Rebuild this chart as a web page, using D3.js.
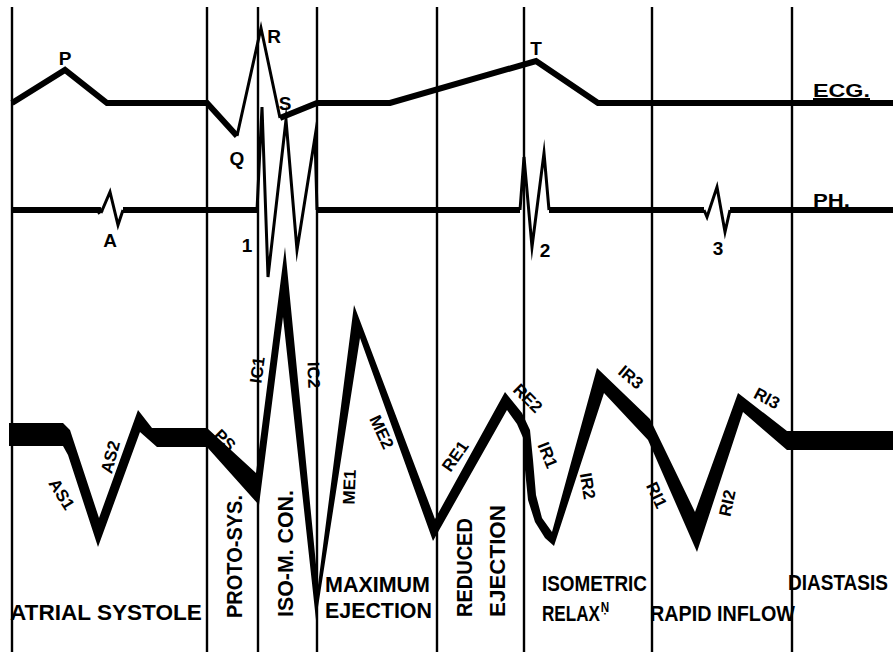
<!DOCTYPE html>
<html>
<head>
<meta charset="utf-8">
<script src="https://cdn.jsdelivr.net/npm/d3@7"></script>
<style>
  html, body { margin: 0; padding: 0; background: #fff; }
  svg { display: block; }
  text { font-family: "Liberation Sans", Arial, sans-serif; font-weight: bold; fill: #000; }
</style>
</head>
<body>
<svg id="chart" width="895" height="652"></svg>
<script>
// ---- Timing of the cardiac cycle (time units along the sweep) ----
const phaseBounds = [12, 207, 258, 317, 437, 524, 652, 792];
const phaseNames = [
  ["ATRIAL SYSTOLE"], ["PROTO-SYS."], ["ISO-M. CON."], ["MAXIMUM", "EJECTION"],
  ["REDUCED", "EJECTION"], ["ISOMETRIC", "RELAX"], ["RAPID INFLOW"], ["DIASTASIS"]
];

// ---- Electrocardiogram (relative amplitude) ----
const ecgTime  = [12, 65, 107, 207, 237, 261, 280, 317, 390, 536, 598, 893];
const ecgValue = [0, 0.33, 0, 0, -0.33, 0.75, -0.15, 0, 0, 0.42, 0, 0];
const ecgWaveNames = ["P", "Q", "R", "S", "T"];

// ---- Phonocardiogram (relative amplitude) ----
const phTime  = [12, 99, 101, 110, 118, 123, 257, 262, 268, 286, 297, 315, 317,
                 520, 524, 532, 544, 549, 704, 707, 717, 725, 730, 893];
const phValue = [0, 0, -0.06, 0.36, -0.3, 0, 0, 2.06, -1.34, 1.8, -0.8, 1.46, 0,
                 0, 1.06, -0.74, 1.14, 0, 0, -0.14, 0.46, -0.44, 0, 0];
const soundNames = ["A", "1", "2", "3"];
const soundTime  = [110, 247, 545, 718];

// ---- Pressure trace, drawn as a band: upper and lower edges [time, level] ----
const pressureUpper = [
  [9, 2.8], [63, 2.8], [70, 1.4], [99, -16.2], [138, 5.4], [152, 1.8], [207, 1.8],
  [256, -7.2], [285, 38], [318, -29.6], [354, 26.4], [435, -16.4], [505, 9],
  [522, 4.8], [530, 1.4], [533, -4.6], [536, -11.6], [542, -16.2], [552, -19],
  [597, 13.8], [650, 3.6], [695, -15], [738, 8.8], [787, 1.2], [893, 1.2]
];
const pressureLower = [
  [9, -1.8], [63, -1.8], [68, -3.6], [98, -22], [140, 1], [157, -2], [207, -2],
  [259, -13.6], [283, 24], [316, -36.6], [360, 19.8], [433, -20.8], [507, 5.4],
  [517, 2.6], [524, -0.6], [525, -6.6], [528, -12.6], [535, -17], [545, -20.2],
  [554, -21.8], [604, 8.8], [648, -0.6], [697, -23], [743, 5], [787, -2.6], [893, -2.6]
];
const segmentNames = ["AS1", "AS2", "PS", "IC1", "IC2", "ME1", "ME2", "RE1", "RE2",
                      "IR1", "IR2", "IR3", "RI1", "RI2", "RI3"];

// ---- Scales ----
const W = 895, H = 652;
const x = d3.scaleLinear().domain([0, 895]).range([0, W]);
const yEcg = d3.scaleLinear().domain([0, 1]).range([103, 3]);
const yPh = d3.scaleLinear().domain([-1, 1]).range([260, 160]);
const yP = d3.scaleLinear().domain([-40, 40]).range([637, 237]);

const svg = d3.select("#chart");
svg.append("rect").attr("width", W).attr("height", H).attr("fill", "#fff");

// phase dividers
svg.append("g").selectAll("line").data(phaseBounds).join("line")
  .attr("x1", d => x(d)).attr("x2", d => x(d))
  .attr("y1", 7).attr("y2", H)
  .attr("stroke", "#000").attr("stroke-width", 2.4);

const line = d3.line();

// trace drawn with a heavy pen on slow runs and a fine pen on steep excursions
function drawTrace(ts, vs, yScale, heavy, fine) {
  const pts = ts.map((t, i) => [x(t), yScale(vs[i])]);
  const runs = [];
  let cur = null;
  for (let i = 0; i < pts.length - 1; i++) {
    const a = pts[i], b = pts[i + 1];
    const steep = Math.abs(b[1] - a[1]) > 1.8 * Math.abs(b[0] - a[0]);
    const w = steep ? fine : heavy;
    if (cur && cur.w === w) cur.pts.push(b);
    else { cur = { w, pts: [a, b] }; runs.push(cur); }
  }
  const g = svg.append("g");
  g.selectAll("path").data(runs).join("path")
    .attr("d", r => line(r.pts))
    .attr("fill", "none").attr("stroke", "#000")
    .attr("stroke-width", r => r.w)
    .attr("stroke-linejoin", "miter").attr("stroke-miterlimit", 12);
}

drawTrace(ecgTime, ecgValue, yEcg, 6, 3);
drawTrace(phTime, phValue, yPh, 6, 3);

// pressure band
const band = pressureUpper.map(d => [x(d[0]), yP(d[1])])
  .concat(pressureLower.slice().reverse().map(d => [x(d[0]), yP(d[1])]));
svg.append("path").attr("d", line(band) + "Z").attr("fill", "#000");

// ECG wave letters
const ecgLabelPos = [[65, 65], [237, 165], [274, 43], [285, 110], [536, 55]];
svg.append("g").selectAll("text").data(ecgWaveNames).join("text")
  .attr("x", (d, i) => ecgLabelPos[i][0])
  .attr("y", (d, i) => ecgLabelPos[i][1])
  .attr("text-anchor", "middle").attr("font-size", 19)
  .text(d => d);

// heart sound labels
const soundBase = [247, 252, 257, 255];
svg.append("g").selectAll("text").data(soundNames).join("text")
  .attr("x", (d, i) => x(soundTime[i]))
  .attr("y", (d, i) => soundBase[i])
  .attr("text-anchor", "middle").attr("font-size", 19)
  .text(d => d);

// text squeezed horizontally so its main run spans a given width
function fitText(sel, x0, y0, rot, len, size, str, extra) {
  const t = sel.append("text").attr("font-size", size);
  t.append("tspan").text(str);
  const w = t.node().getComputedTextLength();
  if (extra) extra(t);
  t.attr("transform", `translate(${x0},${y0}) rotate(${rot}) scale(${len / w},1)`);
  return t;
}

// trace titles, underlined
[["ECG.", 97, 57], ["PH.", 207, 37]].forEach(([t, yb, len]) => {
  fitText(svg, 813, yb, 0, len, 19, t);
  svg.append("line").attr("x1", 813).attr("x2", 813 + len)
    .attr("y1", yb + 2).attr("y2", yb + 2)
    .attr("stroke", "#000").attr("stroke-width", 2);
});

// pressure segment labels: centre and angle
const segLayout = [
  [62, 494, 58], [110, 457, -75], [225, 440, 45], [257, 370, -82], [314, 375, 88],
  [349, 487, -88], [382, 432, 65], [455, 456, -55], [528, 398, 45],
  [548, 455, 68], [588, 486, 80], [631, 377, 40], [657, 495, 65], [727, 503, -78], [767, 398, 28]
];
svg.append("g").selectAll("text").data(segmentNames).join("text")
  .attr("transform", (d, i) => `translate(${segLayout[i][0]},${segLayout[i][1]}) rotate(${segLayout[i][2]})`)
  .attr("text-anchor", "middle").attr("dy", "0.36em")
  .attr("font-size", 17)
  .text(d => d);

// phase names
const phaseLayout = [
  [{ x: 10, y: 620, r: 0, len: 192 }],
  [{ x: 242, y: 618, r: -90, len: 123 }],
  [{ x: 293, y: 617, r: -90, len: 127 }],
  [{ x: 325, y: 592, r: 0, len: 105 }, { x: 325, y: 618, r: 0, len: 107 }],
  [{ x: 472, y: 617, r: -90, len: 99 }, { x: 505, y: 617, r: -90, len: 112 }],
  [{ x: 542, y: 591, r: 0, len: 105 }, { x: 542, y: 621, r: 0, len: 58 }],
  [{ x: 650, y: 621, r: 0, len: 145 }],
  [{ x: 788, y: 590, r: 0, len: 100 }]
];
// "RELAX" carries a raised N with a dot beneath it (abbreviation of relaxation)
const abbrevMark = t => {
  t.append("tspan").attr("font-size", 15).attr("dx", 1).attr("dy", -9).text("\u1E46");
};
const phaseG = svg.append("g");
phaseNames.forEach((lines, i) => {
  lines.forEach((t, j) => {
    const L = phaseLayout[i][j];
    fitText(phaseG, L.x, L.y, L.r, L.len, 22, t, t === "RELAX" ? abbrevMark : null);
  });
});
</script>
</body>
</html>
